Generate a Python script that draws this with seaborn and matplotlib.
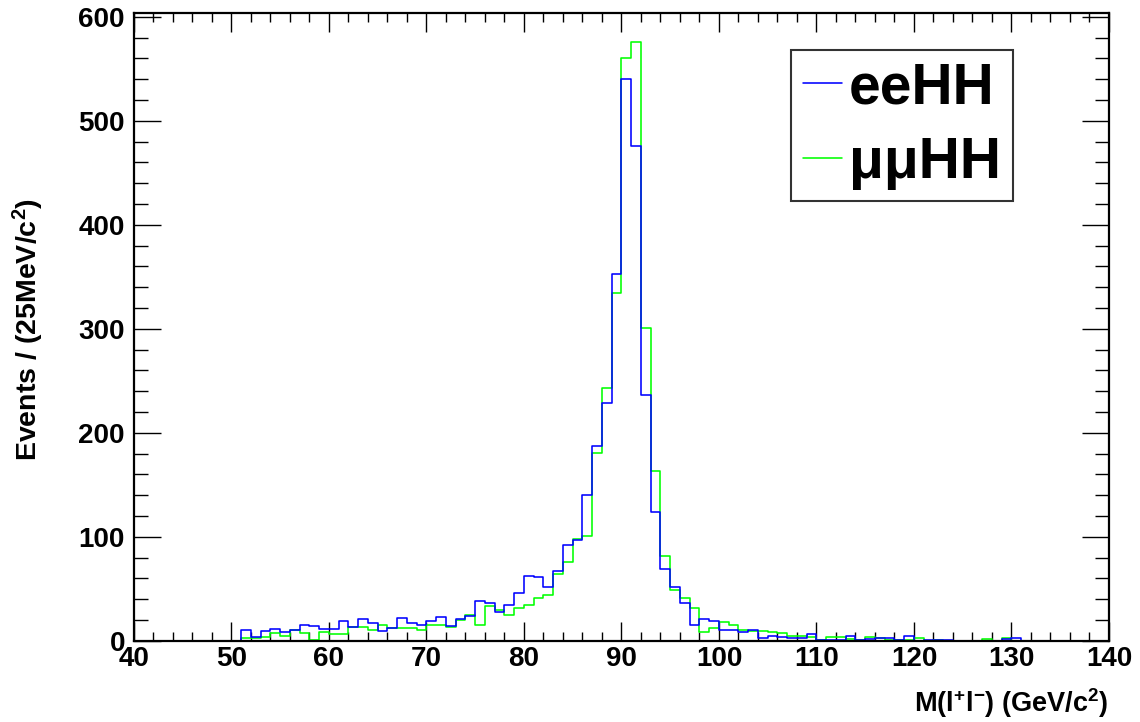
import numpy as np
import pandas as pd
import seaborn as sns
import matplotlib
matplotlib.use("Agg")
import matplotlib.pyplot as plt
from matplotlib.ticker import MultipleLocator
from matplotlib.lines import Line2D

# ---- data: 1 GeV bins from 40 to 140; non-zero region starts at 51 GeV ----
bin_lo = 40
bin_hi = 140
first_filled_bin = 51
ee_counts = [10, 4, 9, 11, 8, 10, 15, 14, 11, 11,
             19, 13, 21, 17, 9, 12, 22, 17, 15, 19,
             23, 14, 21, 24, 38, 36, 28, 34, 46, 62,
             61, 52, 67, 92, 97, 140, 187, 229, 353, 540,
             476, 236, 124, 69, 52, 36, 15, 21, 19, 10,
             10, 8, 10, 3, 5, 4, 3, 3, 6, 1,
             1, 1, 5, 1, 2, 3, 3, 1, 5, 0,
             1, 1, 1, 0, 0, 0, 0, 0, 2, 3]
mumu_counts = [3, 3, 4, 7, 5, 10, 7, 1, 8, 6,
               6, 13, 13, 10, 15, 12, 12, 12, 10, 15,
               15, 13, 20, 25, 15, 33, 30, 25, 31, 34,
               41, 44, 64, 76, 98, 101, 181, 243, 334, 560,
               576, 301, 163, 81, 49, 41, 31, 8, 12, 18,
               15, 10, 9, 9, 8, 7, 5, 5, 4, 1,
               4, 4, 2, 1, 4, 3, 1, 1, 1, 3,
               0, 1, 0, 0, 0, 0, 2, 0, 3, 0]
labels = ["eeHH", "\u03bc\u03bcHH"]
colors = ["#0000ff", "#00ff00"]
x_label = r"M(l$^{+}$l$^{-}$) (GeV/c$^{2}$)"
y_label = r"Events / (25MeV/c$^{2}$)"

edges = np.arange(bin_lo, bin_hi + 1, 1.0)
centers = edges[:-1] + 0.5


def full(counts):
    arr = np.zeros(len(centers))
    start = first_filled_bin - bin_lo
    arr[start:start + len(counts)] = counts
    return arr


df = pd.DataFrame({
    "mass": np.concatenate([centers, centers]),
    "events": np.concatenate([full(ee_counts), full(mumu_counts)]),
    "channel": [labels[0]] * len(centers) + [labels[1]] * len(centers),
})

sns.set_style("ticks")
plt.rcParams["font.family"] = ["Liberation Sans", "DejaVu Sans"]
plt.rcParams["font.weight"] = "bold"
plt.rcParams["text.color"] = "black"
plt.rcParams["axes.labelcolor"] = "black"
plt.rcParams["xtick.color"] = "black"
plt.rcParams["ytick.color"] = "black"
plt.rcParams["xtick.labelcolor"] = "black"
plt.rcParams["ytick.labelcolor"] = "black"
plt.rcParams["mathtext.fontset"] = "custom"
plt.rcParams["mathtext.rm"] = "Liberation Sans:bold"
plt.rcParams["mathtext.it"] = "Liberation Sans:bold"
plt.rcParams["mathtext.bf"] = "Liberation Sans:bold"
plt.rcParams["mathtext.default"] = "rm"

fig = plt.figure(figsize=(11.4, 7.22), dpi=100)
ax = fig.add_axes([0.1175, 0.1126, 0.9728 - 0.1175, 0.9824 - 0.1126])

# green first, blue on top
for lab, col in [(labels[1], colors[1]), (labels[0], colors[0])]:
    sub = df[df["channel"] == lab]
    sns.histplot(data=sub, x="mass", weights="events", binwidth=1.0,
                 binrange=(bin_lo, bin_hi),
                 element="step", fill=False, color=col, linewidth=1.15,
                 ax=ax)

ax.set_xlim(bin_lo, bin_hi)
ax.set_ylim(0, 604)

ax.xaxis.set_major_locator(MultipleLocator(10))
ax.xaxis.set_minor_locator(MultipleLocator(2))
ax.yaxis.set_major_locator(MultipleLocator(100))
ax.yaxis.set_minor_locator(MultipleLocator(20))

ax.tick_params(axis="both", which="both", direction="in", top=True,
               right=True, color="black", labelcolor="black", width=1.0)
ax.tick_params(axis="x", which="major", length=13.7, pad=4, labelsize=20)
ax.tick_params(axis="x", which="minor", length=6.5)
ax.tick_params(axis="y", which="major", length=19.4, pad=6.5, labelsize=20)
ax.tick_params(axis="y", which="minor", length=10)
for lbl in ax.get_xticklabels() + ax.get_yticklabels():
    lbl.set_fontweight("bold")

for sp in ax.spines.values():
    sp.set_linewidth(1.6)
    sp.set_color("black")

ax.set_xlabel(x_label, fontsize=19.5, fontweight="bold", ha="right",
              va="center", color="black")
ax.xaxis.set_label_coords(1.0, -0.099)
ax.set_ylabel(y_label, fontsize=20.5, fontweight="bold", va="center",
              color="black")
ax.yaxis.set_label_coords(-0.108, 0.495)

handles = [Line2D([], [], color=colors[0], linewidth=1.15),
           Line2D([], [], color=colors[1], linewidth=1.15)]
leg = ax.legend(handles, labels, loc="upper left",
                bbox_to_anchor=(0.674, 0.9406), frameon=True,
                fancybox=False, prop={"family": "Liberation Sans",
                                      "weight": "bold", "size": 41},
                handlelength=0.7, handletextpad=0.12, borderpad=0.2,
                labelspacing=0.36, borderaxespad=0.0)
leg.get_frame().set_edgecolor("black")
leg.get_frame().set_linewidth(1.5)
for t in leg.get_texts():
    t.set_color("black")

fig.savefig("out.png", dpi=100)
